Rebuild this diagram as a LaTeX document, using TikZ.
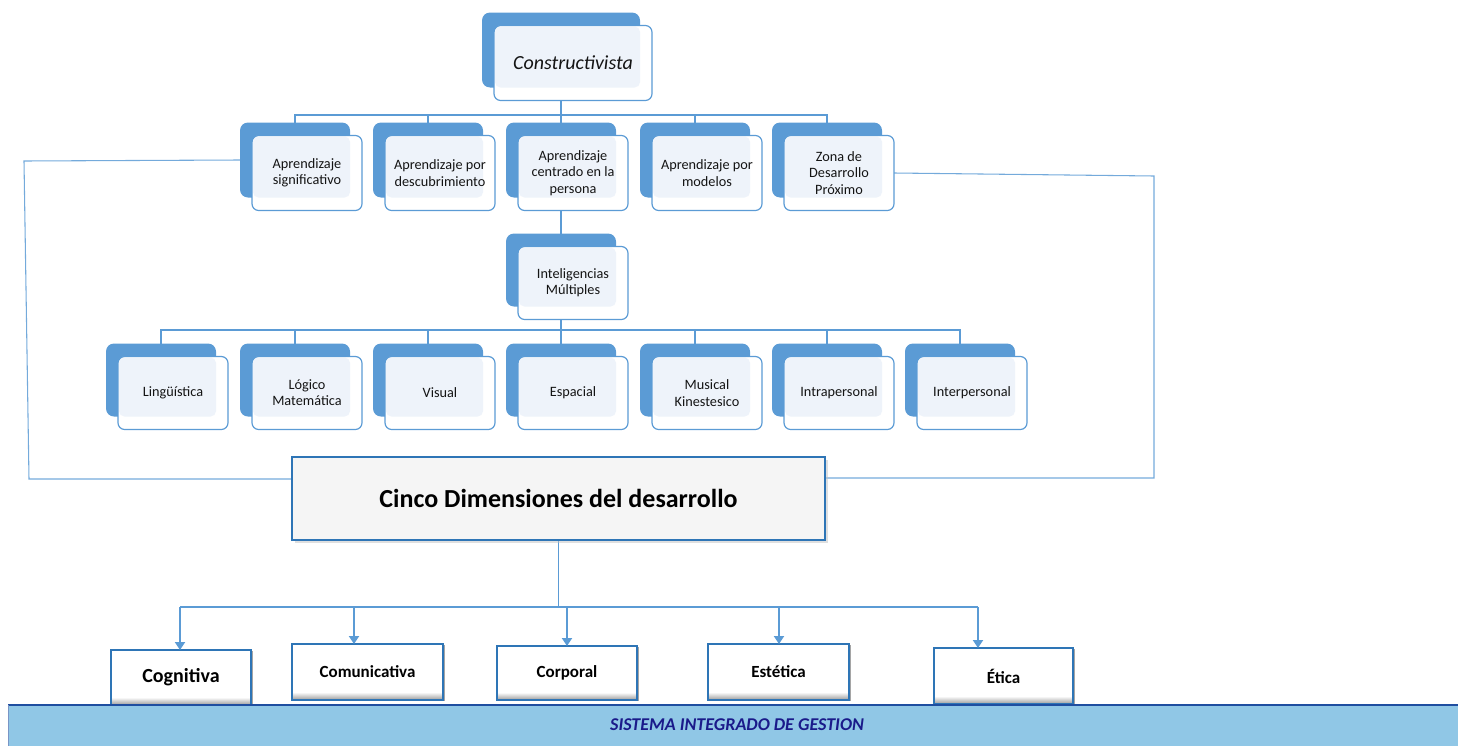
\documentclass[tikz,border=0pt]{standalone}
\usepackage{fontspec}
\setmainfont{Carlito}
\usetikzlibrary{calc,arrows.meta,shadows,backgrounds}

\definecolor{sablue}{HTML}{5B9BD5}
\definecolor{salight}{HTML}{EEF3FA}
\definecolor{cincob}{HTML}{2E75B6}
\definecolor{bandfill}{HTML}{90C7E6}
\definecolor{bandline}{HTML}{1F4EA0}
\definecolor{navytxt}{HTML}{1A1A8A}

\pgfdeclareverticalshading{dimshade}{100bp}{color(0bp)=(black!45); color(25bp)=(black!40); color(32bp)=(white); color(100bp)=(white)}

\newcommand{\dbox}[7]{% name, cx, cy, w, h, text, font
  \node[backbox, minimum width={#4*0.75pt}, minimum height={#5*0.75pt}] (#1b) at (#2,#3) {};
  \node[frontfill, minimum width={#4*0.75pt}, minimum height={#5*0.75pt}] (#1w) at (#2+12,#3+13) {};
  \node[lightbox, minimum width={(#4-13)*0.75pt}, minimum height={(#5-14)*0.75pt}] (#1l) at (#2+6.5,#3+7) {};
  \node[frontline, minimum width={#4*0.75pt}, minimum height={#5*0.75pt}, font=#7] (#1) at (#2+12,#3+13) {#6};
}

\begin{document}
\begin{tikzpicture}[x=0.75pt,y=-0.75pt,
  backbox/.style={fill=sablue, rounded corners=6pt, inner sep=0pt, outer sep=0pt},
  frontfill/.style={fill=white, rounded corners=5pt, inner sep=0pt, outer sep=0pt},
  lightbox/.style={fill=salight, rounded corners=4pt, inner sep=0pt, outer sep=0pt},
  frontline/.style={draw=sablue, line width=0.9pt, rounded corners=5pt, inner sep=0pt, outer sep=0pt, align=center, text=black!92},
  conn/.style={draw=sablue, line width=1.4pt},
  brk/.style={draw=sablue!85, line width=0.8pt},
  arr/.style={draw=sablue, line width=1.4pt, -{Triangle[width=7.5pt,length=6pt]}},
  cincobox/.style={fill=black!4, draw=cincob, line width=1.6pt, inner sep=0pt, outer sep=0pt,
     drop shadow={shadow xshift=2pt, shadow yshift=-2pt, fill=black!25}},
  dimbox/.style={shading=dimshade, draw=cincob, line width=1.1pt, inner sep=0pt, outer sep=0pt,
     drop shadow={shadow xshift=1.2pt, shadow yshift=-0.6pt, fill=black!70}}
]
\useasboundingbox (0,0) rectangle (1458,746);

\def\sfont{\fontsize{10.7}{12.2}\selectfont}

% top
\dbox{c}{561}{50}{158}{75}{Constructivista}{\fontsize{15}{18}\selectfont\itshape}
% level 1
\dbox{a1}{295}{160}{110}{75}{Aprendizaje\\significativo}{\sfont}
\dbox{a2}{428}{160}{110}{75}{Aprendizaje por\\descubrimiento}{\sfont}
\dbox{a3}{561}{160}{110}{75}{Aprendizaje\\centrado en la\\persona}{\sfont}
\dbox{a4}{695}{160}{110}{75}{Aprendizaje por\\modelos}{\sfont}
\dbox{a5}{827}{160}{110}{75}{Zona de\\Desarrollo\\Próximo}{\sfont}
% inteligencias
\dbox{im}{561}{270}{110}{73}{Inteligencias\\Múltiples}{\sfont}
% level 3
\dbox{l1}{161}{380}{110}{73}{Lingüística}{\sfont}
\dbox{l2}{295}{380}{110}{73}{Lógico\\Matemática}{\sfont}
\dbox{l3}{428}{380}{110}{73}{Visual}{\sfont}
\dbox{l4}{561}{380}{110}{73}{Espacial}{\sfont}
\dbox{l5}{695}{380}{110}{73}{Musical\\Kinestesico}{\sfont}
\dbox{l6}{827}{380}{110}{73}{Intrapersonal}{\sfont}
\dbox{l7}{960}{380}{110}{73}{Interpersonal}{\sfont}

% cinco dimensiones
\node[cincobox, minimum width={533*0.75pt}, minimum height={83*0.75pt},
      font=\fontsize{19.5}{23}\selectfont\bfseries] (cinco) at (558.5,498.5) {Cinco Dimensiones del desarrollo};

% dimension boxes
\node[dimbox, minimum width={140*0.75pt}, minimum height={55*0.75pt}, font=\fontsize{15}{18}\selectfont\bfseries] (cog) at (181,677.5) {Cognitiva};
\node[dimbox, minimum width={151*0.75pt}, minimum height={56*0.75pt}, font=\fontsize{12.75}{15}\selectfont\bfseries] (com) at (367.5,672) {Comunicativa};
\node[dimbox, minimum width={140*0.75pt}, minimum height={54*0.75pt}, font=\fontsize{12.75}{15}\selectfont\bfseries] (cor) at (567,673) {Corporal};
\node[dimbox, minimum width={141*0.75pt}, minimum height={56*0.75pt}, font=\fontsize{12.75}{15}\selectfont\bfseries] (est) at (778.5,672) {Estética};
\node[dimbox, minimum width={139*0.75pt}, minimum height={56*0.75pt}, font=\fontsize{12.75}{15}\selectfont\bfseries] (eti) at (1003.5,676) {Ética};

% band
\node[fill=bandfill, inner sep=0pt, outer sep=0pt, minimum width={1450*0.75pt}, minimum height={41*0.75pt}] (band) at (733,725.5) {};
\draw[draw=bandline, line width=1.3pt] (band.north west) -- (band.north east);
\draw[draw=bandline!60, line width=0.5pt] (band.north west) -- (band.south west);
\node[font=\fontsize{13.5}{15}\selectfont\bfseries\itshape, text=navytxt, inner sep=0pt] (bandtxt) at (737,725) {SISTEMA INTEGRADO DE GESTION};

% coordinates
\coordinate (bus1) at (0,115);
\coordinate (bus2) at (0,330);
\coordinate (lb1) at (24,161);
\coordinate (lb2) at (29,479);
\coordinate (rb1) at (1154,176);
\coordinate (rb2) at (1154,478);
\coordinate (d1) at (180,607);
\coordinate (d2) at (354,607);
\coordinate (d3) at (567,607);
\coordinate (d4) at (779,607);
\coordinate (d5) at (978,607);

\begin{scope}[on background layer]
\draw[conn] (cb.south) -- (cb.south |- bus1);
\draw[conn] (a1b.north) -- (a1b.north |- bus1) -- (a5b.north |- bus1) -- (a5b.north);
\draw[conn] (a2b.north) -- (a2b.north |- bus1);
\draw[conn] (a3b.north) -- (a3b.north |- bus1);
\draw[conn] (a4b.north) -- (a4b.north |- bus1);
\draw[conn] (a3b.south) -- (imb.north);
\draw[conn] (imb.south) -- (imb.south |- bus2);
\draw[conn] (l1b.north) -- (l1b.north |- bus2) -- (l7b.north |- bus2) -- (l7b.north);
\draw[conn] (l2b.north) -- (l2b.north |- bus2);
\draw[conn] (l3b.north) -- (l3b.north |- bus2);
\draw[conn] (l4b.north) -- (l4b.north |- bus2);
\draw[conn] (l5b.north) -- (l5b.north |- bus2);
\draw[conn] (l6b.north) -- (l6b.north |- bus2);
\draw[brk] (a1b.west) -- (lb1) -- (lb2) -- (lb2 -| cinco.west);
\draw[brk] (a5.east) -- (rb1) -- (rb2) -- (rb2 -| cinco.east);
\draw[conn] (cinco.south) -- (cinco.south |- d1);
\draw[conn] (d1) -- (d5);
\end{scope}

\draw[arr] (d1) -- (d1 |- cog.north);
\draw[arr] (d2) -- (d2 |- com.north);
\draw[arr] (d3) -- (d3 |- cor.north);
\draw[arr] (d4) -- (d4 |- est.north);
\draw[arr] (d5) -- (d5 |- eti.north);
\end{tikzpicture}
\end{document}
